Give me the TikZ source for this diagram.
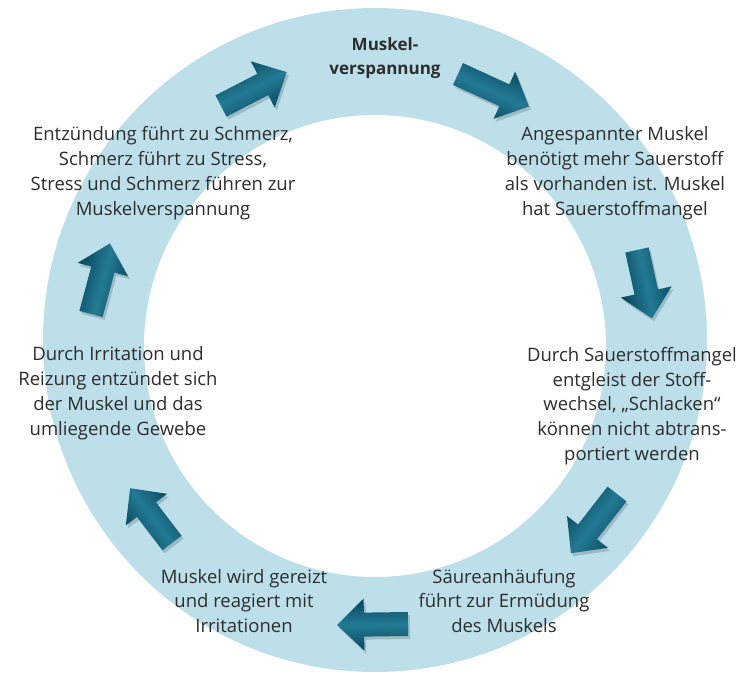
\documentclass[tikz,border=0pt]{standalone}
\usepackage{fontspec}
\setmainfont{Open Sans}
\usetikzlibrary{calc}
\definecolor{ringblue}{RGB}{188,223,234}
\definecolor{arrdark}{RGB}{6,70,92}
\definecolor{arrlight}{RGB}{36,122,148}
\definecolor{txtgray}{RGB}{45,45,45}
\newcommand{\cyclearrow}[4]{% tail x, tail y (pixels, down), angle, length
  \begin{scope}[shift={(#1+2,-#2-3)}, rotate=#3]
    \fill[black, opacity=0.16] (0,-12) -- (#4-27,-12) -- (#4-27,-26) -- (#4,0) -- (#4-27,26) -- (#4-27,12) -- (0,12) -- cycle;
  \end{scope}
  \begin{scope}[shift={(#1,-#2)}, rotate=#3]
    \shade[top color=arrdark, bottom color=arrdark, middle color=arrlight, shading angle=#3]
      (0,-12) -- (#4-27,-12) -- (#4-27,-26) -- (#4,0) -- (#4-27,26) -- (#4-27,12) -- (0,12) -- cycle;
  \end{scope}}
\tikzset{
  lbl/.style={align=center, text=txtgray, inner sep=0pt, font=\fontsize{18.5}{24.8}\selectfont},
  toplbl/.style={align=center, text=txtgray, inner sep=0pt, font=\fontsize{17}{23.5}\selectfont\bfseries}
}
\begin{document}
\begin{tikzpicture}[x=1pt, y=1pt]
\useasboundingbox (0,0) rectangle (740,-676);
\fill[white] (0,0) rectangle (740,-676);
% ring
\fill[ringblue, even odd rule] (375,-340) circle (332) (375,-346) circle (231);
% arrows
\cyclearrow{221}{106}{27.3}{74}
\cyclearrow{458}{74}{-24.6}{78}
\cyclearrow{637}{250}{-77.6}{70}
\cyclearrow{617}{494}{232.1}{75}
\cyclearrow{408}{624}{180.8}{71}
\cyclearrow{172}{543}{127.4}{69}
\cyclearrow{91}{314}{75}{73}
% labels
\node[toplbl] (mv) at (385,-58) {Muskel-\\verspannung};
\node[lbl] (tl) at (163,-173) {Entzündung führt zu Schmerz,\\Schmerz führt zu Stress,\\Stress und Schmerz führen zur\\Muskelverspannung};
\node[lbl] (tr) at (615,-173) {Angespannter Muskel\\benötigt mehr Sauerstoff\\als vorhanden ist. Muskel\\hat Sauerstoffmangel};
\node[lbl] (r) at (632,-406) {Durch Sauerstoffmangel\\entgleist der Stoff-\\wechsel, „Schlacken“\\können nicht abtrans-\\portiert werden};
\node[lbl] (l) at (118,-393) {Durch Irritation und\\Reizung entzündet sich\\der Muskel und das\\umliegende Gewebe};
\node[lbl] (bl) at (244,-601) {Muskel wird gereizt\\und reagiert mit\\Irritationen};
\node[lbl] (br) at (504,-601) {Säureanhäufung\\führt zur Ermüdung\\des Muskels};
\end{tikzpicture}
\end{document}
